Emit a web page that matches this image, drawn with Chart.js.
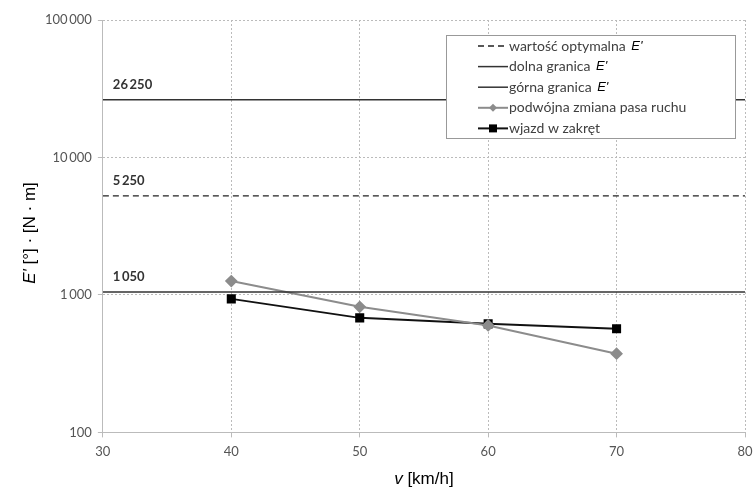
<!DOCTYPE html>
<html>
<head>
<meta charset="utf-8">
<script src="https://cdn.jsdelivr.net/npm/chart.js@4.4.1/dist/chart.umd.min.js"></script>
<style>
  html, body { margin: 0; padding: 0; background: #fff; }
  #wrap { width: 753px; height: 490px; }
</style>
</head>
<body>
<div id="wrap"><canvas id="lineChart" width="753" height="490"></canvas></div>
<script>
// speeds v [km/h]
var speeds = [40, 50, 60, 70];
// measured E' values
var laneChange = [1262, 819, 600, 374];
var curveEntry = [936, 681, 616, 567];
// reference levels of E'
var optimal = 5250;
var lowerLimit = 1050;
var upperLimit = 26250;
var xRange = [30, 80];
var xTicks = [30, 40, 50, 60, 70, 80];
var yTicks = [100, 1000, 10000, 100000];

var seriesNames = [
    'wartość optymalna E\'',
    'dolna granica E\'',
    'górna granica E\'',
    'podwójna zmiana pasa ruchu',
    'wjazd w zakręt'
];
var xTitle = ['v', ' [km/h]'];
var yTitle = ['E\'', ' [°] · [N · m]'];

var labelFont = 'Lato, "Open Sans", sans-serif';
var titleFont = '"Liberation Sans", Arial, sans-serif';

function fmt(n) {
    return String(n).replace(/\B(?=(\d{3})+(?!\d))/g, '\u2009');
}

function levelLine(v) {
    return xRange.map(function (x) { return { x: x, y: v }; });
}

function points(vals) {
    return speeds.map(function (s, i) { return { x: s, y: vals[i] }; });
}

// writes italic part + normal part, centred at (0,0) of current transform
function drawTitle(ctx, parts, size) {
    ctx.font = 'italic ' + size + 'px ' + titleFont;
    var w1 = ctx.measureText(parts[0]).width;
    ctx.font = size + 'px ' + titleFont;
    var w2 = ctx.measureText(parts[1]).width;
    var x = -(w1 + w2) / 2;
    ctx.textBaseline = 'middle';
    ctx.textAlign = 'left';
    ctx.fillStyle = '#000';
    ctx.font = 'italic ' + size + 'px ' + titleFont;
    ctx.fillText(parts[0], x, 0);
    ctx.font = size + 'px ' + titleFont;
    ctx.fillText(parts[1], x + w1, 0);
}

var axisTitles = {
    id: 'axisTitles',
    afterDraw: function (chart) {
        var ctx = chart.ctx;
        var a = chart.chartArea;
        ctx.save();
        ctx.translate((a.left + a.right) / 2, 479);
        drawTitle(ctx, xTitle, 17);
        ctx.restore();
        ctx.save();
        ctx.translate(30, 233);
        ctx.rotate(-Math.PI / 2);
        drawTitle(ctx, yTitle, 17);
        ctx.restore();
    }
};

// labels above the reference lines
var levelLabels = {
    id: 'levelLabels',
    afterDatasetsDraw: function (chart) {
        var ctx = chart.ctx;
        var ys = chart.scales.y;
        var left = chart.chartArea.left;
        ctx.save();
        ctx.font = 'bold 13px ' + labelFont;
        ctx.fillStyle = '#333';
        ctx.textBaseline = 'middle';
        [upperLimit, optimal, lowerLimit].forEach(function (v) {
            ctx.fillText(fmt(v), left + 10, ys.getPixelForValue(v) - 15);
        });
        ctx.restore();
    }
};

// legend box drawn inside the plot
var boxLegend = {
    id: 'boxLegend',
    afterDraw: function (chart) {
        var ctx = chart.ctx;
        var x0 = 446, y0 = 35, w = 289, h = 103;
        ctx.save();
        ctx.fillStyle = '#fff';
        ctx.fillRect(x0, y0, w, h);
        ctx.strokeStyle = '#999';
        ctx.lineWidth = 1;
        ctx.strokeRect(x0 + 0.5, y0 + 0.5, w, h);
        chart.data.datasets.forEach(function (ds, i) {
            var y = y0 + 11 + i * 20.6;
            ctx.strokeStyle = ds.borderColor;
            ctx.lineWidth = ds.borderWidth;
            ctx.setLineDash(ds.borderDash || []);
            ctx.beginPath();
            ctx.moveTo(478, y);
            ctx.lineTo(508, y);
            ctx.stroke();
            ctx.setLineDash([]);
            if (ds.pointRadius > 0) {
                ctx.fillStyle = ds.pointBackgroundColor;
                ctx.beginPath();
                if (ds.pointStyle === 'rectRot') {
                    ctx.moveTo(493, y - 4);
                    ctx.lineTo(497, y);
                    ctx.lineTo(493, y + 4);
                    ctx.lineTo(489, y);
                    ctx.closePath();
                } else {
                    ctx.rect(489, y - 4, 8, 8);
                }
                ctx.fill();
            }
            var name = ds.label;
            ctx.fillStyle = '#404040';
            ctx.textBaseline = 'middle';
            ctx.font = '14px ' + labelFont;
            if (name.slice(-2) === 'E\'') {
                var base = name.slice(0, -2);
                ctx.fillText(base, 509, y);
                var bw = ctx.measureText(base).width;
                ctx.font = 'italic 13px ' + titleFont;
                ctx.fillStyle = '#000';
                ctx.fillText('E\'', 509 + bw + 2, y);
            } else {
                ctx.fillText(name, 509, y);
            }
        });
        ctx.restore();
    }
};

var ctx = document.getElementById('lineChart');
var lineChart = new Chart(ctx, {
    type: 'line',
    data: {
        datasets: [
            {
                label: seriesNames[0],
                data: levelLine(optimal),
                borderColor: '#222',
                borderWidth: 1.3,
                borderDash: [6, 4],
                pointRadius: 0
            },
            {
                label: seriesNames[1],
                data: levelLine(lowerLimit),
                borderColor: '#333',
                borderWidth: 1.5,
                pointRadius: 0
            },
            {
                label: seriesNames[2],
                data: levelLine(upperLimit),
                borderColor: '#333',
                borderWidth: 1.5,
                pointRadius: 0
            },
            {
                label: seriesNames[3],
                data: points(laneChange),
                borderColor: '#8c8c8c',
                backgroundColor: '#8c8c8c',
                borderWidth: 2,
                pointStyle: 'rectRot',
                pointRadius: 5,
                pointBackgroundColor: '#8c8c8c',
                pointBorderColor: '#8c8c8c'
            },
            {
                label: seriesNames[4],
                data: points(curveEntry),
                borderColor: '#111',
                backgroundColor: '#000',
                borderWidth: 2,
                pointStyle: 'rect',
                pointRadius: 5,
                pointBackgroundColor: '#000',
                pointBorderColor: '#000'
            }
        ]
    },
    options: {
        responsive: false,
        animation: false,
        layout: { padding: { left: 39, right: 0, top: 20, bottom: 23 } },
        plugins: {
            legend: { display: false },
            tooltip: { enabled: false }
        },
        scales: {
            x: {
                type: 'linear',
                min: xRange[0],
                max: xRange[1],
                afterBuildTicks: function (axis) {
                    axis.ticks = xTicks.map(function (v) { return { value: v }; });
                },
                afterFit: function (axis) {
                    axis.paddingRight = 8;
                },
                grid: {
                    color: '#bbb',
                    lineWidth: 1,
                    tickLength: 5,
                    tickColor: '#bbb'
                },
                border: { display: true, color: '#bbb', width: 1, dash: [2, 2] },
                ticks: {
                    color: '#555',
                    font: { size: 13, family: labelFont },
                    padding: 7
                }
            },
            y: {
                type: 'logarithmic',
                min: 100,
                max: 100000,
                afterBuildTicks: function (axis) {
                    axis.ticks = yTicks.map(function (v) { return { value: v }; });
                },
                grid: {
                    color: '#bbb',
                    lineWidth: 1,
                    tickLength: 5,
                    tickColor: '#bbb'
                },
                border: { display: true, color: '#bbb', width: 1, dash: [2, 2] },
                ticks: {
                    color: '#555',
                    font: { size: 13, family: labelFont },
                    padding: 6,
                    callback: function (v) { return fmt(v); }
                }
            }
        }
    },
    plugins: [levelLabels, boxLegend, axisTitles]
});
</script>
</body>
</html>
